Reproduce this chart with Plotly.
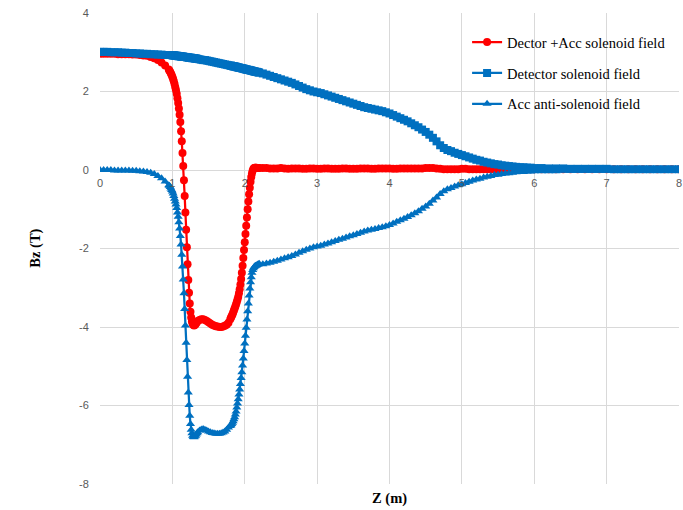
import plotly.graph_objects as go

# Sampling positions along the beam axis (m)
z_a = [0, 0.05, 0.1, 0.15, 0.2, 0.25, 0.3, 0.35, 0.4, 0.45, 0.5, 0.55, 0.6, 0.65, 0.7, 0.75, 0.8, 0.85, 0.9, 0.95]
z_b = [0.96, 0.97, 0.98, 0.99, 1.00, 1.01, 1.02, 1.03, 1.04, 1.05, 1.06, 1.07, 1.08, 1.09,
       1.10, 1.11, 1.12, 1.13, 1.14, 1.15, 1.16, 1.17, 1.18, 1.19, 1.20, 1.21, 1.22, 1.23, 1.24,
       1.25, 1.26, 1.27, 1.28, 1.29, 1.30, 1.31, 1.32, 1.33, 1.34, 1.35]
z_c = [1.375, 1.4, 1.425, 1.45, 1.475, 1.5, 1.525, 1.55, 1.575, 1.6, 1.625, 1.65, 1.675, 1.7, 1.725, 1.75, 1.775]
z_d = [1.80, 1.81, 1.82, 1.83, 1.84, 1.85, 1.86, 1.87, 1.88, 1.89, 1.90, 1.91, 1.92, 1.93, 1.94,
       1.95, 1.96, 1.97, 1.98, 1.99, 2.00, 2.01, 2.02, 2.03, 2.04, 2.05, 2.06, 2.07, 2.08, 2.09,
       2.10, 2.11, 2.12, 2.13, 2.14, 2.15, 2.16, 2.17, 2.18, 2.19, 2.20]
z_e = [2.25, 2.30, 2.35, 2.40, 2.45, 2.50, 2.55, 2.60, 2.65, 2.70, 2.75, 2.80, 2.85, 2.90, 2.95,
       3.00, 3.05, 3.10, 3.15, 3.20, 3.25, 3.30, 3.35, 3.40, 3.45, 3.50, 3.55, 3.60, 3.65, 3.70,
       3.75, 3.80, 3.85, 3.90, 3.95, 4.00, 4.05, 4.10, 4.15, 4.20, 4.25, 4.30, 4.35, 4.40, 4.45,
       4.50, 4.55, 4.60, 4.65, 4.70, 4.75, 4.80, 4.85, 4.90, 4.95, 5.00, 5.05, 5.10, 5.15, 5.20,
       5.25, 5.30, 5.35, 5.40, 5.45, 5.50, 5.55, 5.60, 5.65, 5.70, 5.75, 5.80, 5.85, 5.90, 5.95, 6.00]
z_f = [6.1, 6.2, 6.3, 6.4, 6.5, 6.6, 6.7, 6.8, 6.9, 7.0, 7.1, 7.2, 7.3, 7.4, 7.5, 7.6, 7.7, 7.8, 7.9, 8.0]
z = z_a + z_b + z_c + z_d + z_e + z_f

# Detector + Acc anti-solenoid combined field Bz (T)
bz_total = [
    2.96, 2.96, 2.96, 2.96, 2.96, 2.95, 2.95, 2.95, 2.95, 2.94, 2.94, 2.93, 2.92, 2.91, 2.88, 2.85, 2.80, 2.74, 2.66, 2.56,
    2.53, 2.50, 2.46, 2.42, 2.37, 2.32, 2.26, 2.19, 2.11, 2.03, 1.94, 1.83, 1.71, 1.57,
    1.41, 1.22, 0.99, 0.73, 0.43, 0.10, -0.26, -0.66, -1.08, -1.52, -1.97, -2.40, -2.80, -3.13, -3.40,
    -3.61, -3.76, -3.86, -3.92, -3.95, -3.96, -3.95, -3.93, -3.90, -3.87, -3.85,
    -3.82, -3.80, -3.80, -3.82, -3.85, -3.88, -3.91, -3.94, -3.96, -3.98, -3.99, -4.00, -4.00, -3.99, -3.97, -3.94, -3.89,
    -3.80, -3.76, -3.72, -3.68, -3.63, -3.58, -3.53, -3.48, -3.42, -3.36,
    -3.30, -3.23, -3.14, -3.04, -2.92, -2.78, -2.62, -2.44, -2.24, -2.04,
    -1.84, -1.63, -1.42, -1.21, -1.00, -0.80, -0.62, -0.45, -0.30, -0.18,
    -0.08, -0.01, 0.03, 0.05, 0.06, 0.06, 0.06, 0.05, 0.05, 0.05, 0.05,
    0.05, 0.05, 0.04, 0.04, 0.04, 0.05, 0.04, 0.03, 0.04, 0.04,
    0.04, 0.03, 0.03, 0.04, 0.04, 0.03, 0.03, 0.04, 0.04, 0.03,
    0.03, 0.03, 0.04, 0.04, 0.03, 0.03, 0.03, 0.04, 0.04, 0.04,
    0.03, 0.03, 0.04, 0.04, 0.04, 0.04, 0.03, 0.03, 0.04, 0.04,
    0.04, 0.04, 0.04, 0.04, 0.04, 0.05, 0.05, 0.05, 0.04, 0.03,
    0.02, 0.02, 0.02, 0.02, 0.02, 0.03, 0.03, 0.02, 0.02, 0.02,
    0.02, 0.02, 0.02, 0.02, 0.02, 0.02, 0.02, 0.02, 0.02, 0.02,
    0.02, 0.02, 0.02, 0.02, 0.02, 0.02,
    0.02, 0.02, 0.02, 0.02, 0.02, 0.02, 0.02, 0.02, 0.02, 0.02,
    0.02, 0.02, 0.02, 0.02, 0.02, 0.02, 0.02, 0.02, 0.02, 0.02,
]

# Detector solenoid field Bz (T)
bz_detector = [
    3.01, 3.01, 3.01, 3.00, 3.00, 3.00, 2.99, 2.99, 2.98, 2.98, 2.97, 2.97, 2.96, 2.96, 2.95, 2.95, 2.94, 2.94, 2.93, 2.93,
    2.93, 2.93, 2.93, 2.93, 2.92, 2.92, 2.92, 2.92, 2.91, 2.91, 2.91, 2.91, 2.90, 2.90,
    2.90, 2.90, 2.89, 2.89, 2.89, 2.89, 2.88, 2.88, 2.88, 2.88, 2.87, 2.87, 2.87, 2.86, 2.86,
    2.86, 2.86, 2.85, 2.85, 2.85, 2.85, 2.84, 2.84, 2.84, 2.83, 2.83,
    2.82, 2.81, 2.80, 2.80, 2.79, 2.78, 2.77, 2.76, 2.75, 2.74, 2.73, 2.72, 2.71, 2.70, 2.69, 2.68, 2.67,
    2.66, 2.66, 2.65, 2.65, 2.64, 2.64, 2.64, 2.63, 2.63, 2.62,
    2.62, 2.61, 2.61, 2.60, 2.60, 2.60, 2.59, 2.59, 2.58, 2.58,
    2.57, 2.57, 2.56, 2.56, 2.55, 2.55, 2.55, 2.54, 2.54, 2.53,
    2.53, 2.52, 2.52, 2.51, 2.51, 2.50, 2.50, 2.50, 2.49, 2.49, 2.48,
    2.46, 2.43, 2.40, 2.37, 2.34, 2.31, 2.28, 2.25, 2.22, 2.18,
    2.14, 2.10, 2.06, 2.03, 2.00, 1.98, 1.96, 1.93, 1.90, 1.87,
    1.84, 1.81, 1.78, 1.75, 1.72, 1.69, 1.66, 1.63, 1.60, 1.58,
    1.56, 1.54, 1.52, 1.50, 1.47, 1.44, 1.40, 1.36, 1.32, 1.28,
    1.24, 1.19, 1.14, 1.09, 1.03, 0.97, 0.90, 0.82, 0.73, 0.63,
    0.56, 0.51, 0.48, 0.44, 0.41, 0.38, 0.35, 0.32, 0.29, 0.26,
    0.24, 0.21, 0.19, 0.17, 0.15, 0.14, 0.12, 0.11, 0.10, 0.09,
    0.08, 0.07, 0.07, 0.06, 0.06, 0.05,
    0.05, 0.04, 0.04, 0.04, 0.03, 0.03, 0.03, 0.03, 0.03, 0.03,
    0.02, 0.02, 0.02, 0.02, 0.02, 0.02, 0.02, 0.02, 0.02, 0.02,
]

# Acc anti-solenoid field Bz (T)
bz_anti = [
    0.00, 0.00, 0.00, 0.00, -0.01, -0.01, -0.01, -0.01, -0.01, -0.02, -0.02, -0.03, -0.04, -0.05, -0.07, -0.10, -0.15, -0.21, -0.29, -0.39,
    -0.40, -0.43, -0.47, -0.51, -0.55, -0.60, -0.66, -0.73, -0.80, -0.88, -0.97, -1.08, -1.19, -1.33,
    -1.49, -1.68, -1.90, -2.16, -2.46, -2.79, -3.14, -3.54, -3.96, -4.40, -4.84, -5.27, -5.67, -5.99, -6.26,
    -6.47, -6.62, -6.71, -6.77, -6.80, -6.81, -6.79, -6.77, -6.74, -6.71, -6.68,
    -6.64, -6.61, -6.60, -6.62, -6.64, -6.66, -6.68, -6.70, -6.71, -6.72, -6.72, -6.72, -6.71, -6.69, -6.66, -6.62, -6.56,
    -6.52, -6.50, -6.47, -6.44, -6.40, -6.35, -6.30, -6.23, -6.15, -6.05,
    -5.95, -5.84, -5.72, -5.59, -5.45, -5.30, -5.15, -4.98, -4.80, -4.61,
    -4.42, -4.22, -4.02, -3.81, -3.60, -3.40, -3.20, -3.02, -2.86, -2.73,
    -2.62, -2.55, -2.50, -2.47, -2.45, -2.44, -2.43, -2.42, -2.41, -2.40, -2.39,
    -2.40, -2.38, -2.36, -2.34, -2.31, -2.28, -2.25, -2.22, -2.19, -2.15,
    -2.11, -2.07, -2.03, -2.00, -1.97, -1.95, -1.93, -1.90, -1.87, -1.84,
    -1.81, -1.78, -1.75, -1.72, -1.69, -1.66, -1.63, -1.60, -1.57, -1.54,
    -1.52, -1.50, -1.48, -1.46, -1.43, -1.40, -1.36, -1.32, -1.28, -1.24,
    -1.20, -1.15, -1.10, -1.05, -0.99, -0.93, -0.86, -0.78, -0.70, -0.61,
    -0.54, -0.49, -0.46, -0.42, -0.39, -0.36, -0.33, -0.30, -0.27, -0.24,
    -0.22, -0.19, -0.17, -0.15, -0.13, -0.12, -0.10, -0.09, -0.08, -0.07,
    -0.06, -0.05, -0.05, -0.04, -0.04, -0.03,
    -0.03, -0.03, -0.03, -0.02, -0.02, -0.02, -0.02, -0.02, -0.02, -0.02,
    -0.02, -0.02, -0.02, -0.01, -0.01, -0.01, -0.01, -0.01, -0.01, -0.01,
]

series_names = ["Dector +Acc solenoid field", "Detector solenoid field", "Acc anti-solenoid field"]
x_ticks = [0, 1, 2, 3, 4, 5, 6, 7, 8]
y_ticks = [4, 2, 0, -2, -4, -6, -8]

assert len(z) == len(bz_total) == len(bz_detector) == len(bz_anti)

RED = "#FF0000"
BLUE = "#0070C0"
GRID = "#D9D9D9"
TICK_FONT = dict(family="Liberation Sans", size=11, color="#595959")
SERIF = "Liberation Serif"

fig = go.Figure()
styles = [
    (bz_total, RED, "circle", 8),
    (bz_detector, BLUE, "square", 8),
    (bz_anti, BLUE, "triangle-up", 8),
]
for i, (vals, color, symbol, msize) in enumerate(styles):
    fig.add_trace(go.Scatter(
        x=z, y=vals, mode="lines+markers", name=series_names[i],
        legendgroup=f"g{i}",
        line=dict(color=color, width=2.25),
        marker=dict(color=color, symbol=symbol, size=msize, line=dict(width=0)),
    ))

fig.update_layout(
    width=683, height=510,
    margin=dict(l=100, r=1, t=13, b=26),
    paper_bgcolor="white", plot_bgcolor="white",
    font=dict(family=SERIF, size=14.5, color="#000000"),
    showlegend=True,
    legend=dict(
        x=0.634, y=0.972, xanchor="left", yanchor="top",
        bgcolor="rgba(0,0,0,0)", borderwidth=0,
        font=dict(family=SERIF, size=14.5, color="#000000"),
        tracegroupgap=9,
    ),
    xaxis=dict(
        range=[0, 8], tickvals=x_ticks, ticktext=[str(v) for v in x_ticks],
        showgrid=True, gridcolor=GRID, gridwidth=1,
        zeroline=False, showline=False,
        anchor="free", position=8 / 12,
        ticks="outside", ticklen=3, tickcolor="rgba(0,0,0,0)",
        ticklabeloverflow="allow",
        tickfont=TICK_FONT,
    ),
    yaxis=dict(
        range=[-8, 4], tickvals=y_ticks, ticktext=[str(v) for v in y_ticks],
        showgrid=True, gridcolor=GRID, gridwidth=1,
        zeroline=True, zerolinecolor=GRID, zerolinewidth=1,
        showline=False,
        ticks="outside", ticklen=8, tickcolor="rgba(0,0,0,0)",
        tickfont=TICK_FONT,
    ),
    annotations=[
        dict(text="<b>Z (m)</b>", xref="paper", yref="paper", x=0.5, y=-0.03,
             xanchor="center", yanchor="middle", showarrow=False,
             font=dict(family=SERIF, size=14.5, color="#000000")),
        dict(text="<b>Bz (T)</b>", xref="paper", yref="paper", x=-0.112, y=0.5,
             xanchor="center", yanchor="middle", textangle=-90, showarrow=False,
             font=dict(family=SERIF, size=14.5, color="#000000")),
    ],
)

fig.write_html("out.html")
